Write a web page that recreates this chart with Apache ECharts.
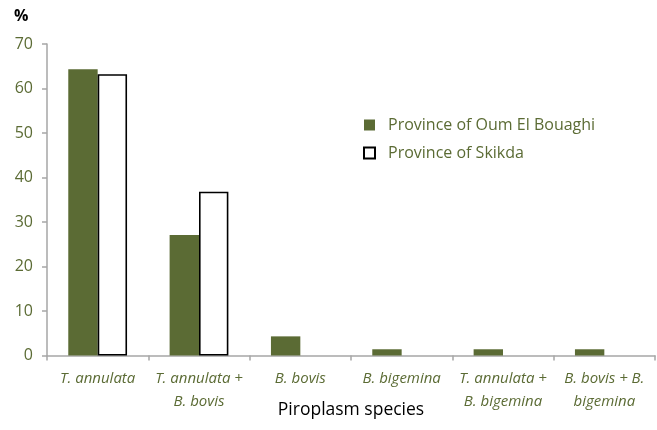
<!DOCTYPE html>
<html>
<head>
<meta charset="utf-8">
<script src="https://cdn.jsdelivr.net/npm/echarts@6/dist/echarts.min.js"></script>
<style>
  html, body { margin: 0; padding: 0; background: #fff; }
  #chart { width: 657px; height: 430px; }
</style>
</head>
<body>
<div id="chart"></div>
<script>
// Piroplasm species found in cattle, share (%) per province
const categories = [
  'T. annulata',
  'T. annulata +\nB. bovis',
  'B. bovis',
  'B. bigemina',
  'T. annulata +\nB. bigemina',
  'B. bovis + B.\nbigemina'
];
const oumElBouaghi = [64.3, 27.1, 4.3, 1.4, 1.4, 1.4];
const skikda = [63.2, 36.8, 0, 0, 0, 0];
const yTicks = [0, 10, 20, 30, 40, 50, 60, 70];

const olive = '#5b6b34';
const axisGrey = '#a6a6a6';
const font = '"Open Sans", "Noto Sans", sans-serif';

// Outlined bars with a zero value get no outline, so nothing is drawn for them
const skikdaData = skikda.map(v => (v === 0 ? { value: v, itemStyle: { borderWidth: 0 } } : v));

const chart = echarts.init(document.getElementById('chart'), null, { renderer: 'canvas' });

chart.setOption({
  animation: false,
  backgroundColor: '#ffffff',
  textStyle: { fontFamily: font },
  grid: { left: 47, right: 2, top: 44, bottom: 74.5, containLabel: false, outerBoundsMode: 'none' },
  legend: {
    orient: 'vertical',
    left: 358,
    top: 112,
    itemWidth: 11,
    itemHeight: 11,
    itemGap: 12,
    textStyle: { color: olive, fontSize: 16, fontFamily: font, padding: [0, 0, 0, 8] },
    data: [
      { name: 'Province of Oum El Bouaghi', icon: 'rect' },
      { name: 'Province of Skikda', icon: 'rect', itemStyle: { color: '#ffffff', borderColor: '#000', borderWidth: 2 } }
    ]
  },
  graphic: [
    { type: 'text', left: 14, top: 8, style: { text: '%', fontSize: 16, fontWeight: 'bold', fill: '#000', fontFamily: font } }
  ],
  xAxis: {
    type: 'category',
    data: categories,
    name: 'Piroplasm species',
    nameLocation: 'middle',
    nameGap: 46,
    nameMoveOverlap: false,
    nameTextStyle: { color: '#000', fontSize: 17.5, fontFamily: font, verticalAlign: 'top' },
    axisLine: { lineStyle: { color: axisGrey, width: 1.5 } },
    axisTick: { show: true, alignWithLabel: false, length: 5, lineStyle: { color: axisGrey, width: 1.5 } },
    axisLabel: {
      color: olive,
      fontSize: 15,
      fontStyle: 'italic',
      fontFamily: font,
      interval: 0,
      margin: 12,
      lineHeight: 23
    }
  },
  yAxis: {
    type: 'value',
    min: yTicks[0],
    max: yTicks[yTicks.length - 1],
    interval: 10,
    axisLine: { show: true, lineStyle: { color: axisGrey, width: 1.5 } },
    axisTick: { show: true, length: 5, lineStyle: { color: axisGrey, width: 1.5 } },
    splitLine: { show: false },
    axisLabel: { color: olive, fontSize: 16, fontFamily: font, margin: 14 }
  },
  series: [
    {
      name: 'Province of Oum El Bouaghi',
      type: 'bar',
      data: oumElBouaghi,
      barGap: '0%',
      barCategoryGap: '42%',
      itemStyle: { color: olive }
    },
    {
      name: 'Province of Skikda',
      type: 'bar',
      data: skikdaData,
      itemStyle: { color: '#ffffff', borderColor: '#000', borderWidth: 1.6 }
    }
  ]
});
</script>
</body>
</html>
